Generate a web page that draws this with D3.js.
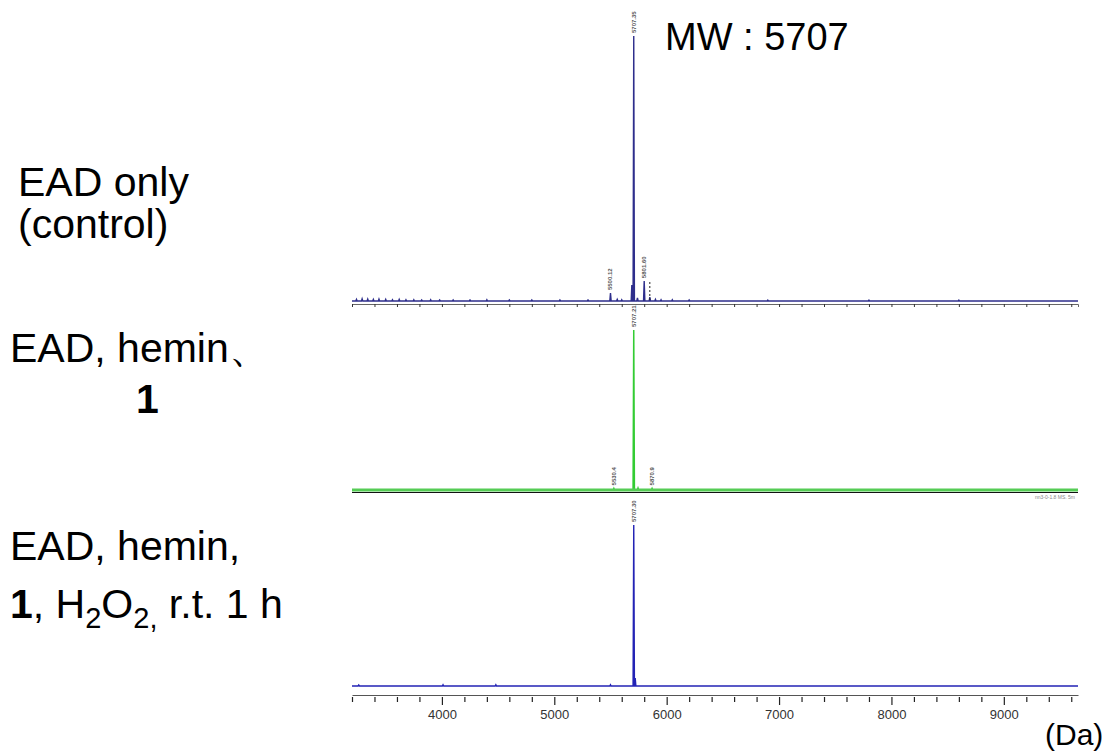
<!DOCTYPE html>
<html><head><meta charset="utf-8">
<script src="https://cdn.jsdelivr.net/npm/d3@7"></script>
<style>body{margin:0;background:#fff;} svg{display:block;}</style>
</head><body>
<svg id="c" width="1107" height="751"></svg>
<script>
// ---- data ----
const massDomain = [3200, 9660];
const tickValues = d3.range(3200, 9601, 200);
const tickLabels = [4000, 5000, 6000, 7000, 8000, 9000];
// spectrum peaks: [mass (Da), relative intensity]
const controlPeaks = [[3240,0.006],[3290,0.008],[3340,0.007],[3390,0.006],[3440,0.007],[3500,0.006],[3560,0.005],[3620,0.006],[3680,0.005],[3750,0.005],[3820,0.004],[3900,0.005],[3980,0.004],[4100,0.004],[4250,0.004],[4400,0.005],[4600,0.004],[4800,0.004],[5050,0.004],[5300,0.004],[5500,0.03],[5560,0.006],[5600,0.005],[5690,0.06],[5707,1.0],[5740,0.012],[5800,0.075],[5850,0.015],[5900,0.006],[5950,0.005],[6050,0.005],[6200,0.004],[6900,0.003],[7800,0.003],[8600,0.003]];
const controlLabels = [[5500,"5500.12"],[5707,"5707.35"],[5800,"5801.60"]];
const heminPeaks = [[5530,0.01],[5707,1.0],[5745,0.012],[5870,0.01]];
const heminLabels = [[5530,"5530.4"],[5707,"5707.21"],[5870,"5870.9"]];
const oxPeaks = [[3260,0.006],[4010,0.008],[4480,0.008],[5500,0.008],[5707,1.0],[5720,0.05]];
const oxLabels = [[5707,"5707.30"]];

const svg = d3.select("#c");
const x = d3.scaleLinear().domain(massDomain).range([352, 1078]);

function spectrum(peaks, base, top, color, width) {
  const y = d3.scaleLinear().domain([0, 1]).range([base, top]);
  const pts = [[massDomain[0], 0]];
  peaks.forEach(([m, v]) => { pts.push([m - 6, 0], [m, v], [m + 6, 0]); });
  pts.push([massDomain[1], 0]);
  svg.append("path").attr("d", d3.line().x(d => x(d[0])).y(d => y(d[1]))(pts))
    .attr("fill", "none").attr("stroke", color).attr("stroke-width", width);
  return y;
}
function peakLabels(labels, peaks, y, color) {
  const lookup = new Map(peaks);
  labels.forEach(([m, t]) => {
    const py = y(lookup.get(m)) - 3;
    svg.append("text").attr("transform", `translate(${x(m)+2},${py}) rotate(-90)`)
      .attr("font-family", "Liberation Sans Narrow, Liberation Sans, sans-serif")
      .attr("font-size", 6).attr("fill", color).attr("font-weight", "bold").text(t);
  });
}

// panel 1
const y1 = spectrum(controlPeaks, 301, 36, "#2e2e8c", 1.4);
peakLabels(controlLabels, controlPeaks, y1, "#555");
svg.append("line").attr("x1", x(5850)).attr("x2", x(5850)).attr("y1", 282).attr("y2", 300)
  .attr("stroke", "#222").attr("stroke-dasharray", "2,2");
const ax1 = svg.append("g").attr("transform", "translate(0,304)")
  .call(d3.axisBottom(x).tickValues(tickValues).tickSize(3).tickFormat(""));
ax1.select(".domain").attr("stroke", "#666");
ax1.selectAll(".tick line").attr("stroke", "#333");

// panel 2
svg.append("line").attr("x1", x(massDomain[0])).attr("x2", x(massDomain[1])).attr("y1", 492.5).attr("y2", 492.5).attr("stroke", "#111").attr("stroke-width", 1.2);
const y2 = spectrum(heminPeaks, 490, 330, "#33cc33", 1.5);
svg.append("line").attr("x1", x(massDomain[0])).attr("x2", x(massDomain[1])).attr("y1", 490).attr("y2", 490).attr("stroke", "#55cc55").attr("stroke-width", 3);
peakLabels(heminLabels, heminPeaks, y2, "#555");
svg.append("text").attr("x", 1075).attr("y", 499).attr("text-anchor", "end")
  .attr("font-family", "Liberation Sans, sans-serif").attr("font-size", 5).attr("fill", "#888").text("nn3-0-1.8 MS. 5m");

// panel 3
const y3 = spectrum(oxPeaks, 686, 525, "#2323b5", 1.4);
peakLabels(oxLabels, oxPeaks, y3, "#555");
const ax3 = svg.append("g").attr("transform", "translate(0,695)")
  .call(d3.axisBottom(x).tickValues(tickValues)
    .tickSize(0).tickFormat(""));
ax3.select(".domain").attr("stroke", "#555").attr("stroke-width", 1.2);
ax3.selectAll(".tick").each(function(d) {
  d3.select(this).append("line").attr("y1", 2).attr("y2", tickLabels.includes(d) ? 10 : 7)
    .attr("stroke", "#222").attr("stroke-width", 1.2);
  if (tickLabels.includes(d)) {
    d3.select(this).append("text").attr("y", 24).attr("text-anchor", "middle")
      .attr("font-family", "Liberation Sans Narrow, Liberation Sans, sans-serif")
      .attr("font-size", 13).attr("fill", "#333").text(d);
  }
});

// texts
const F = "Liberation Sans, Arial, sans-serif";
function txt(xp, yp, s, size, weight) {
  return svg.append("text").attr("x", xp).attr("y", yp).attr("font-family", F)
    .attr("font-size", size || 41).attr("font-weight", weight || "normal").attr("fill", "#000").text(s);
}
txt(665, 50, "MW : 5707", 38);
txt(18, 196, "EAD only");
txt(18, 238, "(control)");
txt(10, 362, "EAD, hemin、");
txt(136, 413, "1", 41, "bold");
txt(10, 560, "EAD, hemin,");
const t = svg.append("text").attr("x", 10).attr("y", 618).attr("font-family", F).attr("font-size", 41).attr("fill", "#000");
t.append("tspan").attr("font-weight", "bold").text("1");
t.append("tspan").text(", H");
t.append("tspan").attr("font-size", 29).attr("dy", 10).text("2");
t.append("tspan").attr("dy", -10).text("O");
t.append("tspan").attr("font-size", 29).attr("dy", 10).text("2,");
t.append("tspan").attr("dy", -10).text(" r.t. 1 h");
txt(1045, 745, "(Da)", 30);
</script>
</body></html>
